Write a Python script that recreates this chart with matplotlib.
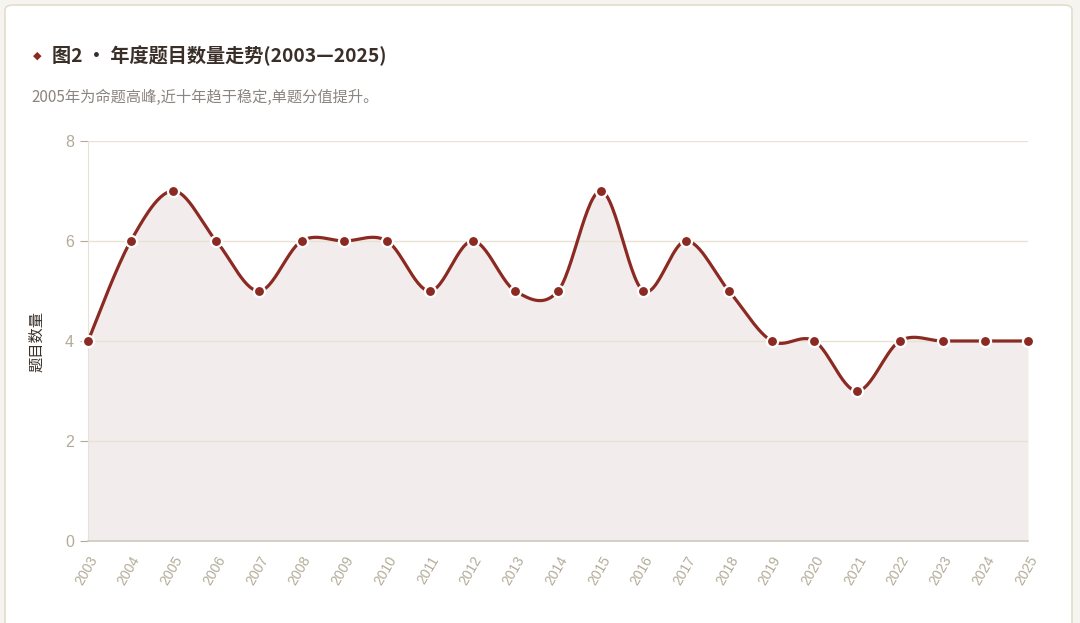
import numpy as np
import matplotlib
matplotlib.use("Agg")
import matplotlib.pyplot as plt
from matplotlib.patches import FancyBboxPatch

plt.rcParams['font.family'] = ['Noto Sans CJK SC', 'DejaVu Sans']

years = list(range(2003, 2026))
counts = [4, 6, 7, 6, 5, 6, 6, 6, 5, 6, 5, 5, 7, 5, 6, 5, 4, 4, 3, 4, 4, 4, 4]

LINE = "#8b2a22"
FILL = "#f3ecec"
GRID = "#e8e2d4"
TICK = "#b3ab98"

W, H = 1080, 623
L, R, T, B = 88, 1028, 141, 541


def smooth_curve(xs, ys, k=1 / 6, n=30):
    # catmull-rom style bezier through every point
    p = np.column_stack([np.asarray(xs, float), np.asarray(ys, float)])
    m = len(p)
    ox, oy = [], []
    t = np.linspace(0, 1, n)[:, None]
    for i in range(m - 1):
        p0, p3 = p[i], p[i + 1]
        p1 = p0 + (p[i + 1] - p[max(i - 1, 0)]) * k
        p2 = p3 - (p[min(i + 2, m - 1)] - p[i]) * k
        c = (1 - t) ** 3 * p0 + 3 * (1 - t) ** 2 * t * p1 \
            + 3 * (1 - t) * t ** 2 * p2 + t ** 3 * p3
        ox.extend(c[:, 0])
        oy.extend(c[:, 1])
    return np.array(ox), np.array(oy)


fig = plt.figure(figsize=(W / 100, H / 100), dpi=100)
fig.patch.set_facecolor("#f6f4ef")
card = FancyBboxPatch((5 / W, -0.05), 1067 / W, 1 - 5 / H + 0.05,
                      boxstyle="round,pad=0,rounding_size=0.008",
                      transform=fig.transFigure, facecolor="white",
                      edgecolor="#e3ddcc", linewidth=1.2, zorder=-10)
fig.patches.append(card)

ax = fig.add_axes([L / W, 1 - B / H, (R - L) / W, (B - T) / H])
ax.set_zorder(5)
ax.set_facecolor("white")

cx, cy = smooth_curve(years, counts)
ax.fill_between(cx, 0, cy, color=FILL, linewidth=0, zorder=1)
ax.plot(cx, cy, color=LINE, linewidth=2.3, zorder=3, solid_capstyle="round")
ax.plot(years, counts, "o", color=LINE, markersize=8, markeredgecolor="white",
        markeredgewidth=1.6, zorder=4, clip_on=False)

ax.set_xlim(2003, 2025)
ax.set_ylim(0, 8)
ax.set_yticks([0, 2, 4, 6, 8])
ax.set_xticks(years)
ax.set_xticklabels([str(y) for y in years], rotation=60, ha="right",
                   rotation_mode="anchor", fontsize=10, color=TICK,
                   family=['Liberation Sans'])
ax.set_yticklabels(["0", "2", "4", "6", "8"], fontsize=11.5, color=TICK,
                   family=['Liberation Sans'])
ax.tick_params(axis="y", colors=TICK, length=6, width=0.8, pad=4)
ax.tick_params(axis="x", length=0, pad=9)
ax.grid(axis="y", color=GRID, linewidth=1, zorder=0)
for s in ["top", "right"]:
    ax.spines[s].set_visible(False)
ax.spines["left"].set_color("#e6e2da")
ax.spines["bottom"].set_color("#cfcac0")
ax.spines["bottom"].set_linewidth(1.2)
ax.set_ylabel("题目数量", fontsize=11, color="#3a302a", labelpad=14)

fig.text(37 / W, 1 - 56 / H, "◆", fontsize=8, color=LINE, va="center",
         ha="center", family=['DejaVu Sans'])
fig.text(52 / W, 1 - 56 / H, "图2 · 年度题目数量走势(2003—2025)", fontsize=13.8,
         fontweight="bold", color="#3a2e28", va="center")
fig.text(31 / W, 1 - 97 / H, "2005年为命题高峰,近十年趋于稳定,单题分值提升。",
         fontsize=11, color="#8a8580", va="center")

fig.savefig("out.png", dpi=100, facecolor=fig.get_facecolor())
